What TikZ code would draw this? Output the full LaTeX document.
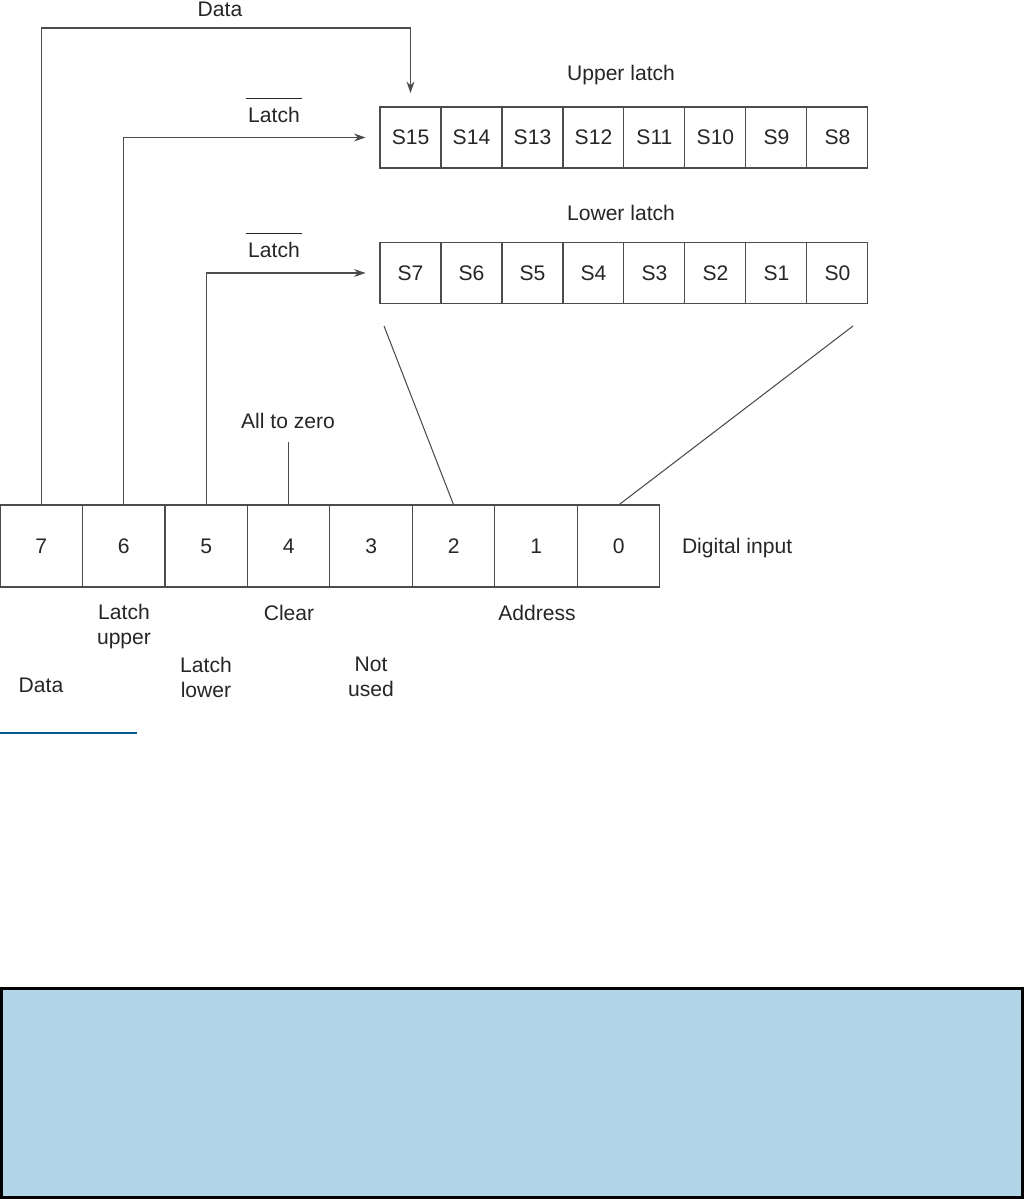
\documentclass[tikz,border=0pt]{standalone}
\usepackage{fontspec}
\setmainfont{Liberation Sans}
\usetikzlibrary{positioning,calc,arrows.meta}
\definecolor{rulecol}{RGB}{0,90,140}
\definecolor{panelfill}{RGB}{178,213,231}
\newcommand\latchbar[1]{\(\overline{\mbox{\kern1.5pt\rule{0pt}{12.6pt}#1\kern1.5pt}}\)}
\tikzset{
  bitcell/.style={draw=black!70, line width=0.6pt, minimum width=1.65cm, minimum height=1.64cm},
  latchcell/.style={draw=black!70, line width=0.6pt, minimum width=1.22cm, minimum height=1.22cm},
  wire/.style={draw=black!70, line width=0.6pt},
  feed/.style={wire, -{Stealth[length=6.5pt, width=4.5pt]}},
  lbl/.style={text=black!85}
}

\begin{document}
\begin{tikzpicture}[x=0.02cm, y=-0.02cm, every node/.style={inner sep=0pt, outer sep=0pt, font=\fontsize{12}{14.5}\selectfont}]
  \useasboundingbox (0,0) rectangle (1024,1199);
  \node[bitcell, lbl] (b7) at (41.25,546) {7};
  \node[bitcell, lbl] (b6) [right=0pt of b7] {6};
  \node[bitcell, lbl] (b5) [right=0pt of b6] {5};
  \node[bitcell, lbl] (b4) [right=0pt of b5] {4};
  \node[bitcell, lbl] (b3) [right=0pt of b4] {3};
  \node[bitcell, lbl] (b2) [right=0pt of b3] {2};
  \node[bitcell, lbl] (b1) [right=0pt of b2] {1};
  \node[bitcell, lbl] (b0) [right=0pt of b1] {0};
  \node[lbl, anchor=base west] (din) at (682,553) {Digital input};
  \node[latchcell, lbl] (u15) at (410.5,137.5) {S15};
  \node[latchcell, lbl] (u14) [right=0pt of u15] {S14};
  \node[latchcell, lbl] (u13) [right=0pt of u14] {S13};
  \node[latchcell, lbl] (u12) [right=0pt of u13] {S12};
  \node[latchcell, lbl] (u11) [right=0pt of u12] {S11};
  \node[latchcell, lbl] (u10) [right=0pt of u11] {S10};
  \node[latchcell, lbl] (u9) [right=0pt of u10] {S9};
  \node[latchcell, lbl] (u8) [right=0pt of u9] {S8};
  \node[latchcell, lbl] (l7) at (410.5,273) {S7};
  \node[latchcell, lbl] (l6) [right=0pt of l7] {S6};
  \node[latchcell, lbl] (l5) [right=0pt of l6] {S5};
  \node[latchcell, lbl] (l4) [right=0pt of l5] {S4};
  \node[latchcell, lbl] (l3) [right=0pt of l4] {S3};
  \node[latchcell, lbl] (l2) [right=0pt of l3] {S2};
  \node[latchcell, lbl] (l1) [right=0pt of l2] {S1};
  \node[latchcell, lbl] (l0) [right=0pt of l1] {S0};
  \node[lbl, anchor=base] (uptitle) at (621,81) {Upper latch};
  \node[lbl, anchor=base] (lowtitle) at (621,221) {Lower latch};
  \node[lbl, anchor=base] (datatop) at (220,17) {Data};
  \node[lbl, anchor=base] (ulatch) at (274,123) {\latchbar{Latch}};
  \node[lbl, anchor=base] (llatch) at (274,258) {\latchbar{Latch}};
  \node[lbl, anchor=base] (zero) at (288,428) {All to zero};
  \node[lbl, anchor=north, align=center] (lup) at (124,604) {Latch\\upper};
  \node[lbl, anchor=base] (clr) at (289,620) {Clear};
  \node[lbl, anchor=base] (addr) at (537,620) {Address};
  \node[lbl, anchor=north, align=center] (llow) at (206,657) {Latch\\lower};
  \node[lbl, anchor=north, align=center] (nu) at (371,657) {Not\\used};
  \node[lbl, anchor=base] (databot) at (41,692) {Data};
  \coordinate (dtop) at (410.5,28);
  \coordinate (fanl) at (384,326);
  \coordinate (fanr) at (853,326);
  \draw[feed, shorten >=0.28cm] (b7.north) |- (dtop) -- (u15.north);
  \draw[feed, shorten >=0.29cm] (b6.north) |- (u15.west);
  \draw[feed, shorten >=0.29cm] (b5.north) |- (l7.west);
  \draw[wire] ($(b4.north)+(0,-63)$) -- (b4.north);
  \draw[wire] (fanl) -- (b2.north);
  \draw[wire] (fanr) -- (b0.north);
  \draw[rulecol, line width=0.04cm] (0,732.5) -- (137,732.5);
  \draw[line width=0.06cm, fill=panelfill] (1.5,988.5) rectangle (1022.5,1197.5);
\end{tikzpicture}
\end{document}
